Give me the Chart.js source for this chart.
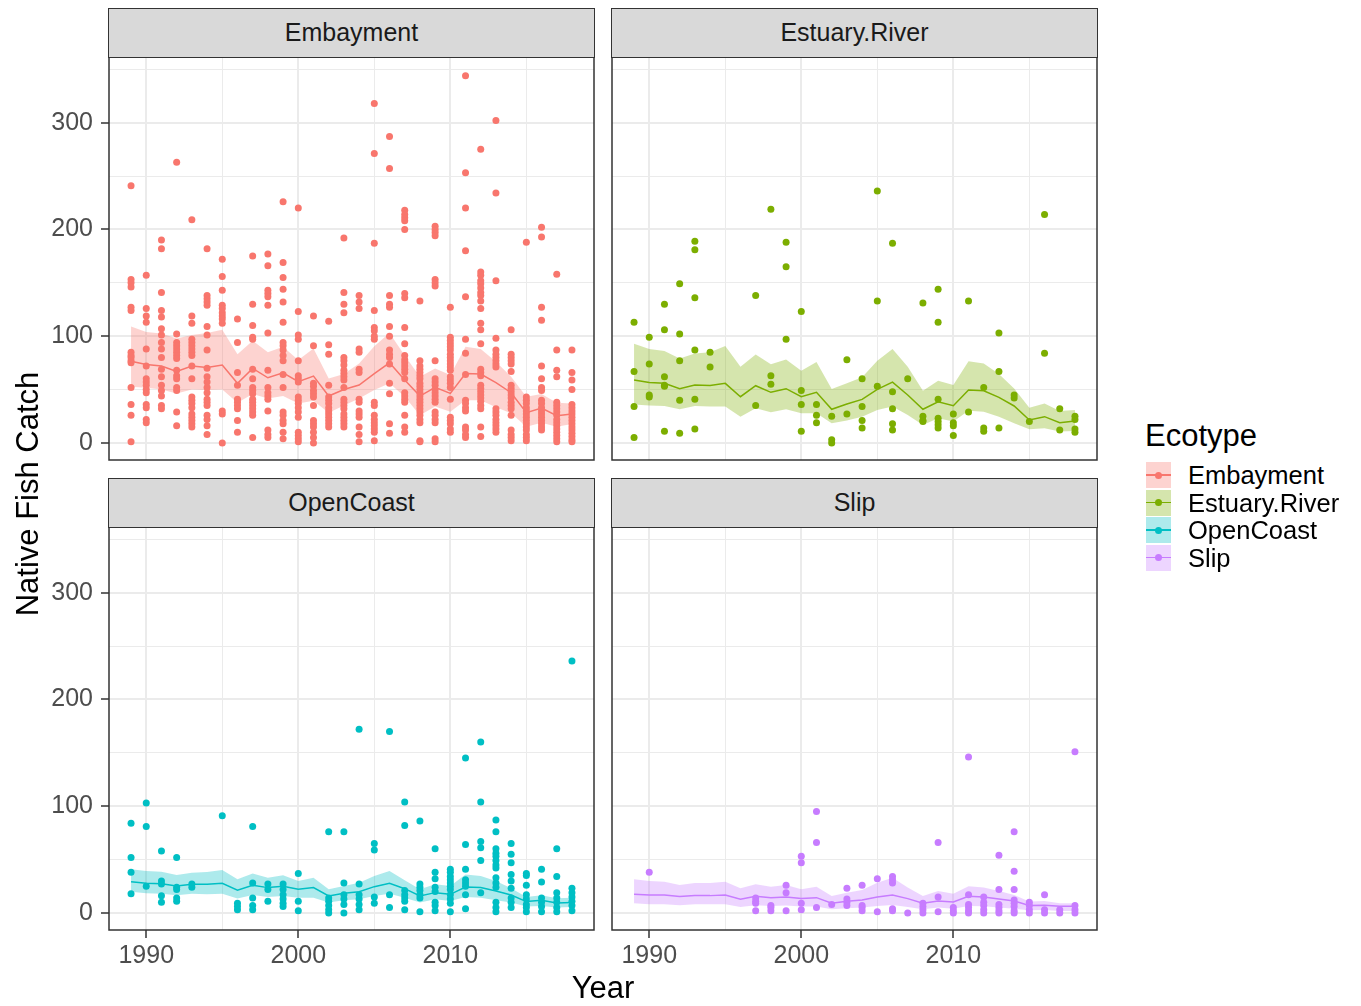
<!DOCTYPE html>
<html>
<head>
<meta charset="utf-8">
<script src="https://cdn.jsdelivr.net/npm/chart.js@4.4.1/dist/chart.umd.min.js"></script>
<style>
  body { margin: 0; background: #fff; width: 1361px; height: 1006px; position: relative; overflow: hidden;
         font-family: "Liberation Sans", Arial, sans-serif; }
  canvas { position: absolute; }
  .strip { position: absolute; box-sizing: border-box; background: #D9D9D9; border: 1.5px solid #333;
           color: #1A1A1A; font-size: 25px; text-align: center; line-height: 47px; height: 50px; width: 487px; }
  .title { position: absolute; color: #000; font-size: 31px; white-space: nowrap; }
  .key { position: absolute; left: 1146px; width: 25px; height: 26px; }
  .key .bar { position: absolute; left: 0; right: 0; top: 12px; height: 1.5px; }
  .key .dot { position: absolute; left: 9px; top: 9.5px; width: 7px; height: 7px; border-radius: 50%; }
  .keylabel { position: absolute; left: 1188px; font-size: 25.5px; line-height: 26px; height: 26px; color: #000; }
</style>
</head>
<body>

<canvas id="p-emb"></canvas>
<canvas id="p-est"></canvas>
<canvas id="p-open"></canvas>
<canvas id="p-slip"></canvas>

<div class="strip" style="left:108px; top:8px;">Embayment</div>
<div class="strip" style="left:611px; top:8px;">Estuary.River</div>
<div class="strip" style="left:108px; top:478px;">OpenCoast</div>
<div class="strip" style="left:611px; top:478px;">Slip</div>

<div class="title" style="left:-172px; top:474px; width:400px; height:40px; line-height:40px; text-align:center; transform:rotate(-90deg);">Native Fish Catch</div>
<div class="title" style="left:503px; top:968px; width:200px; height:40px; line-height:40px; text-align:center;">Year</div>

<div class="title" style="left:1145px; top:418px; line-height:36px;">Ecotype</div>
<div id="legend"></div>

<script>
// -- DATA ----------------------------------------------
const years = [1989, 1990, 1991, 1992, 1993, 1994, 1995, 1996, 1997, 1998,
               1999, 2000, 2001, 2002, 2003, 2004, 2005, 2006, 2007, 2008,
               2009, 2010, 2011, 2012, 2013, 2014, 2015, 2016, 2017, 2018];
const xTicks = [1990, 1995, 2000, 2005, 2010, 2015];
const yTicks = [0, 50, 100, 150, 200, 250, 300, 350];
const ecotypes = ["Embayment", "Estuary.River", "OpenCoast", "Slip"];
const colors = ["#F8766D", "#7CAE00", "#00BFC4", "#C77CFF"];
const bandColors = ["rgba(248,118,109,0.32)", "rgba(124,174,0,0.32)", "rgba(0,191,196,0.32)", "rgba(199,124,255,0.32)"];

// catches per year (one list per year, 1989..2018)
const embaymentCatch = [
  [241, 153, 150, 146, 127, 124, 85, 82, 80, 77, 75, 52, 36, 26, 1],
  [157, 126, 119, 113, 88, 72, 60, 57, 54, 50, 47, 36, 33, 22, 19],
  [190, 182, 141, 124, 118, 107, 101, 94, 88, 80, 69, 62, 54, 49, 44, 35, 32],
  [263, 102, 94, 91, 88, 85, 82, 79, 68, 63, 60, 52, 49, 29, 16],
  [209, 119, 112, 97, 94, 91, 88, 85, 82, 72, 60, 43, 40, 37, 33, 27, 24, 21, 18, 15],
  [182, 138, 135, 132, 129, 109, 101, 87, 70, 62, 57, 52, 47, 41, 38, 35, 26, 22, 16, 8],
  [172, 156, 143, 129, 126, 122, 119, 116, 112, 30, 27, 0],
  [116, 94, 66, 54, 41, 38, 35, 32, 21, 10],
  [175, 130, 110, 99, 97, 69, 60, 52, 49, 46, 41, 38, 35, 32, 29, 26, 5],
  [177, 166, 143, 140, 137, 129, 103, 68, 52, 47, 44, 41, 30, 12, 8, 5],
  [226, 169, 155, 144, 132, 113, 94, 91, 87, 82, 77, 64, 52, 29, 26, 21, 18, 10, 4],
  [220, 123, 101, 97, 77, 63, 60, 57, 43, 40, 37, 33, 29, 24, 10, 7, 4, 1],
  [119, 91, 56, 53, 49, 46, 43, 35, 21, 18, 15, 10, 5, 0],
  [114, 92, 83, 54, 43, 40, 37, 33, 30, 27, 24, 21, 18, 15],
  [192, 141, 130, 122, 80, 77, 73, 68, 65, 62, 59, 52, 41, 38, 35, 32, 27, 24, 21, 18, 15],
  [138, 132, 126, 88, 85, 69, 66, 41, 38, 30, 27, 24, 15, 8, 1],
  [318, 271, 187, 124, 108, 105, 100, 97, 38, 35, 26, 22, 19, 16, 13, 10, 2],
  [287, 257, 138, 130, 127, 109, 100, 87, 83, 80, 74, 56, 46, 18, 9],
  [218, 214, 211, 208, 200, 140, 136, 108, 93, 82, 78, 75, 72, 69, 66, 60, 47, 44, 41, 38, 26, 15, 10],
  [133, 77, 72, 69, 66, 63, 60, 56, 53, 50, 47, 44, 41, 38, 35, 32, 29, 26, 22, 19, 2, 1],
  [203, 200, 197, 194, 153, 150, 147, 77, 60, 57, 54, 50, 47, 44, 41, 38, 29, 26, 22, 19, 4, 1],
  [127, 99, 96, 93, 90, 87, 83, 80, 77, 74, 71, 68, 62, 59, 56, 52, 41, 24, 21, 18, 13, 10],
  [344, 253, 220, 180, 137, 97, 84, 64, 40, 37, 33, 30, 15, 12, 8, 5],
  [275, 160, 157, 152, 149, 145, 141, 138, 133, 126, 112, 106, 93, 69, 66, 63, 54, 51, 48, 45, 42, 39, 35, 32, 15, 6],
  [302, 234, 152, 98, 87, 83, 80, 77, 74, 71, 32, 29, 26, 22, 19, 16, 13, 10],
  [106, 83, 80, 77, 74, 67, 54, 51, 48, 45, 42, 38, 35, 32, 26, 12, 8, 5, 2],
  [188, 43, 40, 37, 33, 30, 27, 24, 21, 18, 15, 12, 8, 5, 2],
  [202, 193, 127, 115, 72, 60, 52, 49, 40, 37, 33, 30, 27, 24, 21, 18, 15, 12],
  [158, 87, 68, 62, 38, 35, 32, 29, 26, 22, 19, 16, 13, 10, 7, 4, 1],
  [87, 66, 59, 50, 36, 33, 30, 27, 24, 21, 18, 15, 12, 9, 6, 3, 1]
];
const estuaryCatch = [
  [113, 67, 34, 5], [99, 74, 45, 43], [130, 106, 62, 54, 53, 11], [149, 102, 77, 40, 9],
  [189, 181, 136, 87, 41, 13], [85, 71], [], [], [138, 35], [219, 63, 55],
  [188, 165, 97], [123, 49, 36, 11], [36, 26, 19], [25, 3, 0], [78, 27],
  [60, 34, 21, 14], [236, 133, 53], [187, 48, 32, 18, 12], [60], [131, 25, 21, 20],
  [144, 113, 41, 23, 20, 17, 14], [27, 19, 16, 7], [133, 29], [52, 14, 11], [103, 67, 14],
  [45, 42], [20], [214, 84], [32, 12], [25, 22, 13, 10]
];
const openCoastCatch = [
  [84, 52, 38, 18], [103, 81, 25], [58, 30, 27, 16, 10], [52, 24, 22, 14, 11], [27, 24],
  [], [91], [9, 6, 3], [81, 28, 14, 7, 3], [27, 22, 11],
  [27, 22, 17, 13, 9, 6], [37, 11, 2], [], [76, 14, 11, 7, 3, 0], [76, 28, 17, 13, 8, 0],
  [172, 27, 17, 13, 8, 3], [65, 59, 15, 9], [170, 17, 5], [104, 82, 21, 17, 14, 11, 3], [86, 27, 24, 21, 17, 14, 1],
  [60, 38, 32, 24, 20, 10, 7, 2], [41, 38, 34, 31, 28, 25, 22, 17, 13, 9, 1], [145, 64, 41, 31, 28, 25, 17, 4],
  [160, 104, 67, 61, 49, 19], [87, 76, 60, 56, 53, 49, 45, 42, 33, 28, 24, 10, 5, 1],
  [65, 55, 47, 36, 30, 23, 14, 10, 5], [37, 35, 26, 17, 13, 8, 5, 1], [41, 29, 14, 10, 6, 1],
  [60, 34, 19, 14, 10, 5, 1], [236, 23, 19, 15, 11, 7, 2]
];
const slipCatch = [
  [], [38], [], [], [], [], [], [], [14, 11, 9, 2], [7, 5, 2],
  [26, 19, 2], [53, 47, 9, 3], [95, 66, 5], [8], [23, 13, 10, 7],
  [26, 7, 5, 2], [32, 1], [34, 31, 28, 4, 2], [0], [9, 6, 3, 0],
  [66, 15, 1], [5, 2, 0], [146, 17, 8, 5, 2, 0], [15, 10, 7, 3, 0], [54, 22, 8, 5, 2, 0],
  [76, 39, 22, 12, 9, 6, 2, 0], [10, 7, 3, 0], [17, 3, 0], [3, 0], [151, 7, 3, 0]
];

// fitted mean and confidence band per year
const embaymentMean = [76.6, 73.5, 72, 67, 72, 70.7, 73, 55.8, 69.8, 61, 65.7, 57.3, 62.6, 43.9, 50,
                       54.2, 65, 75, 58.9, 43.9, 52, 46.4, 65, 64.5, 56.4, 47, 28.3, 32.7, 25.5, 27];
const embaymentUpper = [109, 104, 102.5, 97.8, 101, 103, 106, 83, 95.6, 85, 90, 77.6, 88.5, 60.4, 64.5,
                        74.5, 90.6, 103, 82, 62, 69.8, 63.6, 90, 87.9, 76, 62, 43.3, 45.8, 37.7, 37];
const embaymentLower = [52.6, 51.7, 50, 46.4, 50, 49.5, 50, 37.7, 45.8, 41.7, 43.9, 37, 39.5, 28.3, 35,
                        41.7, 49.5, 55.8, 43.3, 26, 34, 29.3, 40, 40, 33.3, 27.7, 15.2, 19, 15.2, 17.8];
const estuaryMean = [59, 56.7, 55.8, 50.8, 54.2, 53.9, 55.8, 43.3, 53.6, 47.4, 50.8, 43.3, 47.4, 31.5, 36.4,
                     40.8, 50.2, 57, 44.9, 31.5, 38.6, 34.9, 49.5, 48.9, 42.7, 34.6, 21.5, 24.6, 19, 20.6];
const estuaryUpper = [93, 87.9, 86, 79, 83.8, 85, 90.7, 71.3, 82.9, 73.8, 78.2, 67.6, 75.7, 50.5, 55.8,
                      61.4, 77, 87.9, 71.3, 48.9, 58.3, 54.2, 76.6, 74.5, 64.5, 51, 33, 37, 30, 30.8];
const estuaryLower = [36, 35, 34.6, 31.5, 34.6, 34, 34, 24.6, 32.4, 28.7, 31.5, 27.7, 27.7, 18.4, 20.9,
                      24.6, 30.8, 34, 26.2, 16.8, 23, 20, 30.2, 29.3, 24.6, 18.4, 12.8, 13.7, 10.6, 11.2];
const openCoastMean = [29.3, 27.7, 27.4, 25.2, 26.8, 26.8, 27.7, 21.2, 25.9, 23.7, 24.9, 22.1, 23.7, 15.9, 18.4,
                       19.9, 24.6, 27.7, 22.7, 15.9, 19, 17.4, 24.3, 23.7, 20.6, 16.8, 10.6, 11.8, 9.3, 9.7];
const openCoastUpper = [40.8, 39.3, 38.6, 35.5, 37.7, 38.3, 40.2, 31.5, 37, 33, 35.2, 29.9, 33, 22.1, 25.2,
                        28.3, 34.6, 39.3, 30.5, 22.1, 26.8, 25.2, 36.1, 34.6, 29.9, 23, 15, 16.5, 13.7, 14.3];
const openCoastLower = [19.9, 18.4, 18, 16.5, 18, 17.4, 18, 13.4, 16.8, 15, 15.9, 14.3, 14.3, 9.7, 11.8,
                        12.8, 15.9, 18, 14.3, 9.7, 12.8, 11.2, 15, 14.3, 11.8, 9.7, 5.9, 6.5, 5, 5.6];
const slipMean = [17.4, 16.8, 16.8, 15.3, 16.2, 16.2, 16.8, 12.8, 15.6, 14.3, 15, 13.4, 14.3, 9, 10.9,
                  12.1, 15, 16.8, 13.4, 9, 11.2, 10.3, 15.6, 15, 13.1, 11.2, 6.9, 7.2, 6.2, 6.2];
const slipUpper = [31.5, 29.9, 29.3, 26.2, 28, 28, 29.3, 23, 26.8, 24.6, 26.2, 22.1, 24.6, 15.9, 19,
                   21.5, 28.3, 33, 23.7, 15.9, 20.6, 18, 24.9, 23.7, 20.6, 16.8, 10.6, 11.2, 9, 9];
const slipLower = [9, 8.1, 8.1, 7.2, 8.1, 8.1, 8.1, 5.6, 7.2, 6.5, 6.9, 5.9, 5.9, 3.4, 4.4,
                   5, 6.5, 7.5, 5.6, 3.4, 5, 4, 6.5, 6.2, 5, 4, 2.5, 2.8, 1.9, 1.9];

// -- HELPERS -------------------------------------------
const FONT = '"Liberation Sans", Arial, sans-serif';

function pointData(perYear) {
  const out = [];
  perYear.forEach((list, i) => list.forEach((v) => out.push({ x: years[i], y: v })));
  return out;
}

function lineData(series) {
  return series.map((v, i) => ({ x: years[i], y: v }));
}

// the scales would otherwise reserve room for half a label at each end
function noEndPadding(s) {
  s.paddingTop = 0;
  s.paddingBottom = 0;
  s.paddingLeft = 0;
  s.paddingRight = 0;
}

const panelBorder = {
  id: "panelBorder",
  afterDraw(chart) {
    const a = chart.chartArea;
    const c = chart.ctx;
    c.save();
    c.strokeStyle = "#333333";
    c.lineWidth = 1.5;
    c.strokeRect(a.left, a.top, a.right - a.left, a.bottom - a.top);
    c.restore();
  }
};

function makePanel(id, idx, pts, mean, upper, lower, plot, showY, showX) {
  const canvas = document.getElementById(id);
  const left = showY ? 0 : plot.left - 2;
  const top = plot.top - 2;
  const width = plot.right + 2 - left;
  const height = plot.bottom + (showX ? 50 : 2) - top;
  canvas.style.left = left + "px";
  canvas.style.top = top + "px";
  canvas.width = width;
  canvas.height = height;

  const isMajorX = (v) => v % 10 === 0;
  const isMajorY = (v) => v % 100 === 0;

  return new Chart(canvas, {
    type: "line",
    data: {
      datasets: [
        { data: lineData(mean), borderColor: colors[idx], borderWidth: 1.5, pointRadius: 0, fill: false },
        { data: lineData(upper), borderColor: "transparent", pointRadius: 0, fill: false },
        { data: lineData(lower), borderColor: "transparent", pointRadius: 0, fill: "-1", backgroundColor: bandColors[idx] },
        {
          data: pointData(pts),
          showLine: false,
          pointRadius: 3.5,
          pointBackgroundColor: colors[idx],
          pointBorderColor: colors[idx],
          pointBorderWidth: 0
        }
      ]
    },
    plugins: [panelBorder],
    options: {
      responsive: false,
      animation: false,
      events: [],
      layout: {
        autoPadding: false,
        padding: { left: showY ? 0 : 2, top: 2, right: 2, bottom: showX ? 0 : 2 }
      },
      plugins: { legend: { display: false }, tooltip: { enabled: false } },
      scales: {
        x: {
          type: "linear",
          min: 1987.55,
          max: 2019.45,
          afterBuildTicks: (s) => { s.ticks = xTicks.map((v) => ({ value: v })); },
          afterFit: (s) => { s.height = showX ? 50 : 0; noEndPadding(s); },
          border: { display: false },
          grid: {
            color: "#EBEBEB",
            lineWidth: (c) => (c.tick && isMajorX(c.tick.value) ? 2 : 1),
            drawTicks: showX,
            tickLength: 8,
            tickWidth: 1.5,
            tickColor: (c) => (c.tick && isMajorX(c.tick.value) ? "#333333" : "rgba(0,0,0,0)")
          },
          ticks: {
            display: showX,
            autoSkip: false,
            maxRotation: 0,
            padding: 3,
            color: "#4D4D4D",
            font: { family: FONT, size: 25 },
            callback: (v) => (isMajorX(v) ? String(v) : "")
          }
        },
        y: {
          type: "linear",
          min: -16,
          max: 361.5,
          afterBuildTicks: (s) => { s.ticks = yTicks.map((v) => ({ value: v })); },
          afterFit: (s) => { s.width = showY ? 109 : 0; noEndPadding(s); },
          border: { display: false },
          grid: {
            color: "#EBEBEB",
            lineWidth: (c) => (c.tick && isMajorY(c.tick.value) ? 2 : 1),
            drawTicks: showY,
            tickLength: 8,
            tickWidth: 1.5,
            tickColor: (c) => (c.tick && isMajorY(c.tick.value) ? "#333333" : "rgba(0,0,0,0)")
          },
          ticks: {
            display: showY,
            autoSkip: false,
            padding: 8,
            color: "#4D4D4D",
            font: { family: FONT, size: 25 },
            callback: (v) => (isMajorY(v) ? String(v) : "")
          }
        }
      }
    }
  });
}

// -- LEGEND --------------------------------------------
function buildLegend() {
  const host = document.getElementById("legend");
  const rowTops = [462, 489.6, 517.2, 544.8];
  ecotypes.forEach((name, i) => {
    const key = document.createElement("div");
    key.className = "key";
    key.style.top = rowTops[i] + "px";
    key.style.background = bandColors[i];
    key.innerHTML = '<div class="bar" style="background:' + colors[i] + '"></div>' +
                    '<div class="dot" style="background:' + colors[i] + '"></div>';
    host.appendChild(key);
    const label = document.createElement("div");
    label.className = "keylabel";
    label.style.top = rowTops[i] + "px";
    label.textContent = name;
    host.appendChild(label);
  });
}

// -- RENDER --------------------------------------------
const topRow = { top: 57, bottom: 460 };
const bottomRow = { top: 527, bottom: 930 };
const leftCol = { left: 109, right: 594 };
const rightCol = { left: 612, right: 1097 };

makePanel("p-emb", 0, embaymentCatch, embaymentMean, embaymentUpper, embaymentLower,
  { ...leftCol, ...topRow }, true, false);
makePanel("p-est", 1, estuaryCatch, estuaryMean, estuaryUpper, estuaryLower,
  { ...rightCol, ...topRow }, false, false);
makePanel("p-open", 2, openCoastCatch, openCoastMean, openCoastUpper, openCoastLower,
  { ...leftCol, ...bottomRow }, true, true);
makePanel("p-slip", 3, slipCatch, slipMean, slipUpper, slipLower,
  { ...rightCol, ...bottomRow }, false, true);
buildLegend();
</script>
</body>
</html>
